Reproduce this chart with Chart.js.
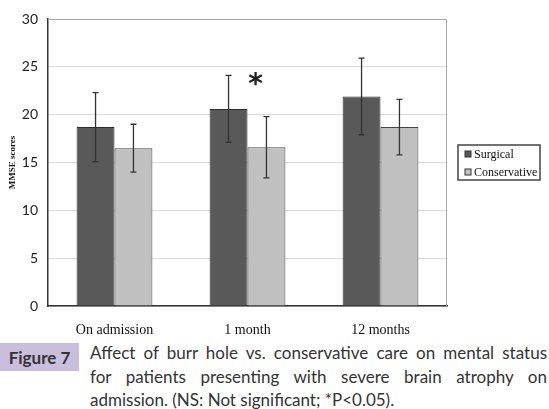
<!DOCTYPE html>
<html>
<head>
<meta charset="utf-8">
<script src="https://cdn.jsdelivr.net/npm/chart.js@4/dist/chart.umd.min.js"></script>
<style>
  body { margin: 0; background: #fff; }
  #wrap { position: relative; width: 549px; height: 409px; }
  #chartBox { position: absolute; left: 0; top: 0; width: 549px; height: 336px; }
  #figLabel {
    position: absolute; left: 0; top: 343px; width: 79px; height: 28px;
    background: #c9bfdc; color: #333; font: bold 17px Lato, "Open Sans", sans-serif;
    display: flex; align-items: center; justify-content: center;
  }
  #caption {
    position: absolute; left: 90px; top: 341px; width: 457px;
    font: 17px Lato, "Open Sans", sans-serif; color: #333; line-height: 23.5px;
  }
  #caption .j { text-align: justify; text-align-last: justify; }
</style>
</head>
<body>
<div id="wrap">
  <div id="chartBox"><canvas id="mmseChart"></canvas></div>
  <div id="figLabel">Figure 7</div>
  <div id="caption">
    <div class="j">Affect of burr hole vs. conservative care on mental status</div>
    <div class="j">for patients presenting with severe brain atrophy on</div>
    <div>admission. (NS: Not significant; *P&lt;0.05).</div>
  </div>
</div>
<script>
const categories = ['On admission', '1 month', '12 months'];
const surgical = [18.7, 20.6, 21.9];
const conservative = [16.5, 16.6, 18.7];
const surgicalErr = [3.6, 3.5, 4.0];
const conservativeErr = [2.5, 3.2, 2.9];
const yTicks = [0, 5, 10, 15, 20, 25, 30];
const errors = [surgicalErr, conservativeErr];

// error bars, star, frame and legend
const extras = {
  id: 'extras',
  afterDatasetsDraw(chart) {
    const ctx = chart.ctx;
    const y = chart.scales.y;
    const area = chart.chartArea;
    ctx.save();
    // top / right frame
    ctx.strokeStyle = '#a6a6a6';
    ctx.lineWidth = 1;
    ctx.beginPath();
    ctx.moveTo(area.left, area.top + 0.5);
    ctx.lineTo(area.right - 0.5, area.top + 0.5);
    ctx.lineTo(area.right - 0.5, area.bottom);
    ctx.stroke();

    ctx.strokeStyle = '#333';
    ctx.lineWidth = 1.3;
    chart.data.datasets.forEach((ds, di) => {
      const meta = chart.getDatasetMeta(di);
      meta.data.forEach((bar, i) => {
        const v = ds.data[i], e = errors[di][i];
        const top = y.getPixelForValue(v + e);
        const bot = y.getPixelForValue(v - e);
        ctx.beginPath();
        ctx.moveTo(bar.x, top); ctx.lineTo(bar.x, bot);
        ctx.moveTo(bar.x - 3, top); ctx.lineTo(bar.x + 3, top);
        ctx.moveTo(bar.x - 3, bot); ctx.lineTo(bar.x + 3, bot);
        ctx.stroke();
      });
    });

    // significance star
    const m1 = chart.getDatasetMeta(1).data[1];
    ctx.fillStyle = '#222';
    ctx.font = 'bold 28px "DejaVu Sans", sans-serif';
    ctx.textAlign = 'center';
    ctx.textBaseline = 'middle';
    ctx.fillText('*', m1.x - 11, y.getPixelForValue(23.0));

    // legend
    const lx = 458, ly = 145, lw = 82, lh = 35;
    ctx.fillStyle = '#fff';
    ctx.fillRect(lx, ly, lw, lh);
    ctx.strokeStyle = '#444';
    ctx.lineWidth = 1.5;
    ctx.strokeRect(lx, ly, lw, lh);
    ctx.font = '12px "Liberation Serif", serif';
    ctx.textAlign = 'left';
    chart.data.datasets.forEach((ds, di) => {
      const ry = ly + 9 + di * 18;
      ctx.fillStyle = ds.backgroundColor;
      ctx.fillRect(lx + 7, ry - 3, 6, 6);
      ctx.strokeStyle = '#333';
      ctx.lineWidth = 1;
      ctx.strokeRect(lx + 7, ry - 3, 6, 6);
      ctx.fillStyle = '#111';
      ctx.fillText(ds.label, lx + 16, ry + 1);
    });
    ctx.restore();
  }
};

new Chart(document.getElementById('mmseChart'), {
  type: 'bar',
  data: {
    labels: categories,
    datasets: [
      { label: 'Surgical', data: surgical, backgroundColor: '#595959', borderColor: '#2b2b2b', borderWidth: 1 },
      { label: 'Conservative', data: conservative, backgroundColor: '#c0c0c0', borderColor: '#444', borderWidth: 1 }
    ]
  },
  options: {
    responsive: true,
    maintainAspectRatio: false,
    animation: false,
    layout: { padding: { top: 19, right: 102, left: 0, bottom: 0 } },
    categoryPercentage: 0.57,
    barPercentage: 1.0,
    scales: {
      x: {
        grid: { display: false },
        border: { color: '#333', width: 1.5 },
        ticks: { color: '#111', font: { family: '"Liberation Serif", serif', size: 14 }, padding: 8 },
        afterFit: (s) => { s.height = 30; }
      },
      y: {
        min: 0, max: 30,
        afterBuildTicks: (s) => { s.ticks = yTicks.map(v => ({ value: v })); },
        grid: { color: '#d9d9d9', drawTicks: false },
        border: { color: '#333', width: 1.5 },
        ticks: { color: '#222', font: { family: 'Lato, sans-serif', size: 14 }, padding: 10 },
        title: { display: true, text: 'MMSE scores', color: '#111', font: { family: '"Liberation Serif", serif', size: 9, weight: 'bold' }, padding: { top: 7, bottom: 0 } },
        afterFit: (s) => { s.width = 48; }
      }
    },
    plugins: { legend: { display: false }, tooltip: { enabled: false } }
  },
  plugins: [extras]
});
</script>
</body>
</html>
